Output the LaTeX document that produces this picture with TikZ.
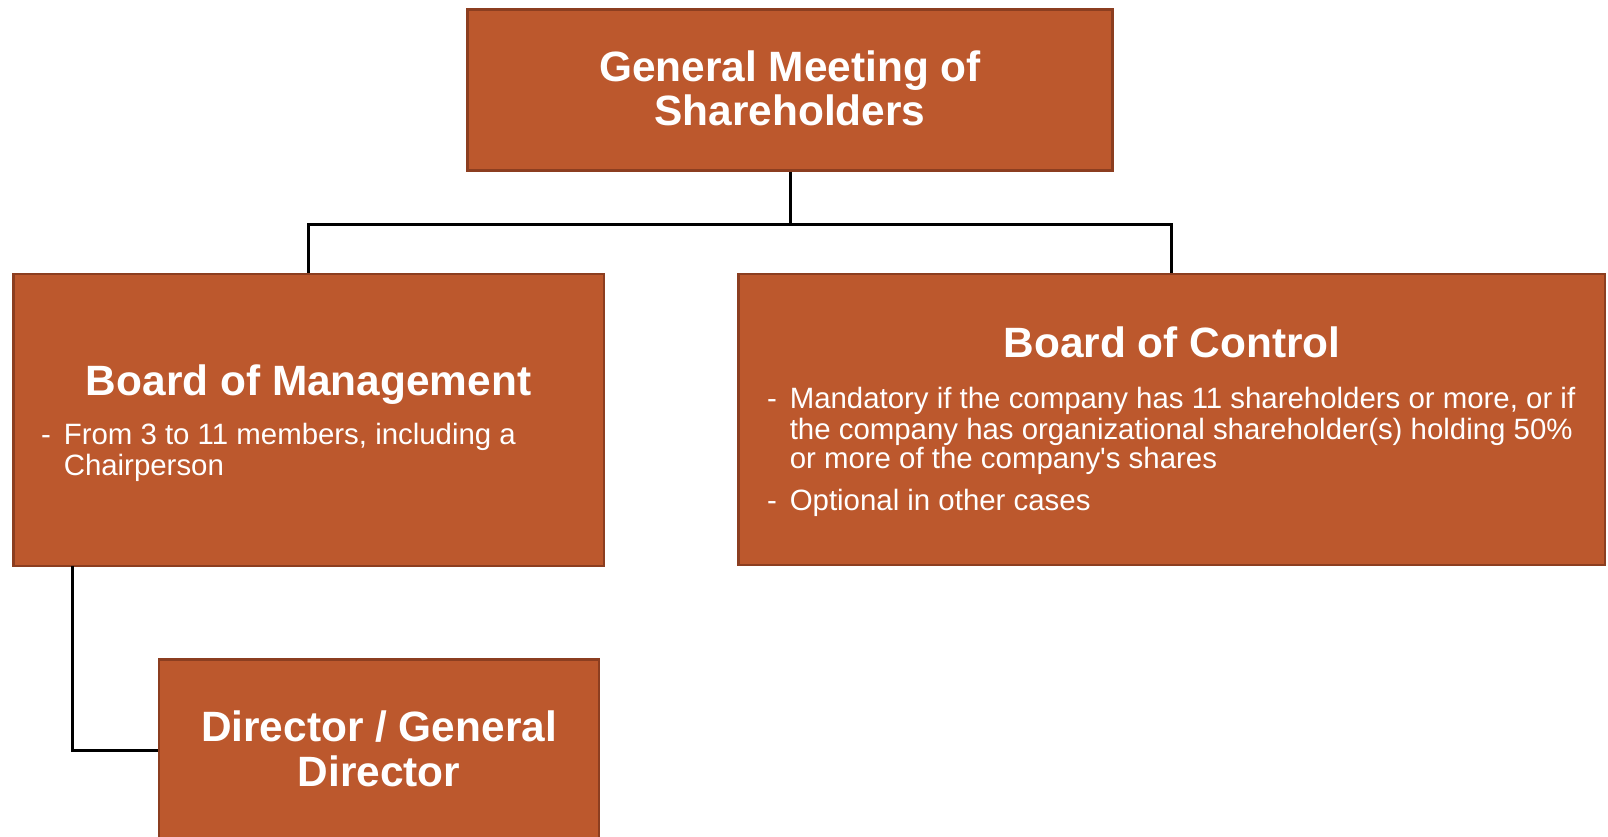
\documentclass[tikz,border=0pt]{standalone}
\usepackage{fontspec}
\setmainfont{Liberation Sans}[Ligatures=TeXOff]
\definecolor{boxfill}{RGB}{188,88,45}
\definecolor{boxline}{RGB}{140,62,32}
\begin{document}
\begin{tikzpicture}[x=1pt,y=-1pt,
  orgbox/.style={draw=boxline,fill=boxfill,line width=2.5pt,inner sep=0pt},
  head/.style={text=white,font=\fontsize{42.4}{44}\selectfont\bfseries,anchor=base,inner sep=0pt},
  body/.style={text=white,font=\fontsize{29.4}{30}\selectfont,anchor=base west,inner sep=0pt},
  link/.style={draw=black,line width=3pt}]
\useasboundingbox (0,0) rectangle (1608,836);
\clip (0,0) rectangle (1608,836);
\fill[white] (0,0) rectangle (1608,836);
% boxes
\node[orgbox,minimum width=645pt,minimum height=161pt] (gm) at (790,89.8) {};
\node[orgbox,minimum width=590.7pt,minimum height=292pt] (bm) at (308.6,420) {};
\node[orgbox,minimum width=866.6pt,minimum height=291pt] (bc) at (1171.7,419.5) {};
\node[orgbox,minimum width=440pt,minimum height=181.4pt] (dir) at (379,750) {};
% connectors
\coordinate (split) at (790,224.6);
\coordinate (bmfoot) at (72.8,566);
\draw[link] (gm.south) -- (split);
\draw[link] (bm.north) |- (split) -| (bc.north);
\draw[link] (bmfoot) |- (dir.west);
% texts
\node[head] (gm1) at (790,81.7) {General Meeting of};
\node[head] (gm2) at (790,125.7) {Shareholders};
\node[head] (bmh) at (308.6,395) {Board of Management};
\node[body] (bmd) at (41,444.3) {-};
\node[body] (bm1) at (63.6,444.3) {From 3 to 11 members, including a};
\node[body] (bm2) at (63.6,475) {Chairperson};
\node[head] (bch) at (1172,357.7) {Board of Control};
\node[body] (bcd1) at (767,408.3) {-};
\node[body] (bc1) at (789.6,408.3) {Mandatory if the company has 11 shareholders or more, or if};
\node[body] (bc2) at (789.6,439) {the company has organizational shareholder(s) holding 50\%};
\node[body] (bc3) at (789.6,468.3) {or more of the company's shares};
\node[body] (bcd2) at (767,510) {-};
\node[body] (bc4) at (789.6,510) {Optional in other cases};
\node[head] (dir1) at (379,741) {Director / General};
\node[head] (dir2) at (379,786.7) {Director};
\end{tikzpicture}
\end{document}
